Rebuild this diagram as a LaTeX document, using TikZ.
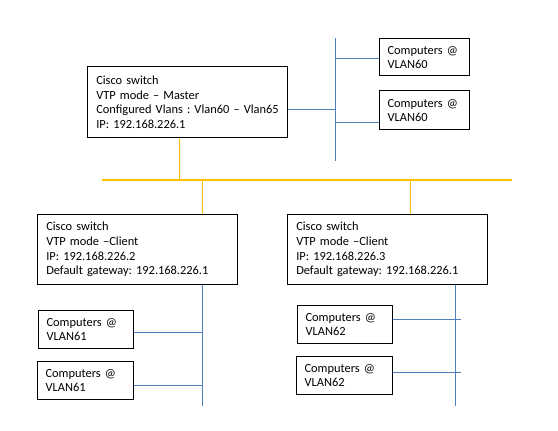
\documentclass[tikz,border=0pt]{standalone}
\usepackage{fontspec}
\setmainfont{Carlito}
\usepackage{xcolor}
\usetikzlibrary{positioning}
\frenchspacing
\definecolor{lanblue}{HTML}{4F81BD}
\definecolor{busyellow}{HTML}{FFC000}
\tikzstyle{switchbox} = [rectangle, draw, line width=0.9pt, anchor=north west,
    minimum width=150pt, text width=137pt, inner xsep=6.5pt, align=left,
    font=\fontsize{9.3}{11}\selectfont]
\tikzstyle{pcbox} = [rectangle, draw, line width=0.9pt, anchor=north west,
    minimum height=28.5pt, inner xsep=6pt, align=left,
    font=\fontsize{9.3}{10.5}\selectfont]
\tikzstyle{lan} = [draw=lanblue, line width=0.75pt]
\tikzstyle{bus} = [draw=busyellow, line width=1pt]

\begin{document}
\begin{tikzpicture}[x=0.75pt, y=-0.75pt]
        \useasboundingbox (0,0) rectangle (558,431);
        % Place switches
        \node [switchbox, minimum height=53.25pt] (master) at (87,66) {Cisco switch\\VTP mode -- Master\\\mbox{Configured Vlans : Vlan60 -- Vlan65}\\IP: 192.168.226.1};
        \node [switchbox, minimum height=52.5pt] (clientA) at (37,214) {Cisco switch\\VTP mode --Client\\IP: 192.168.226.2\\Default gateway: 192.168.226.1};
        \node [switchbox, minimum height=52.5pt] (clientB) at (287,214) {Cisco switch\\VTP mode --Client\\IP: 192.168.226.3\\Default gateway: 192.168.226.1};
        % Place computers
        \node [pcbox, minimum width=67.5pt, text width=55.5pt, minimum height=27.75pt] (pc60a) at (379,38) {Computers~@\\VLAN60};
        \node [pcbox, minimum width=67.5pt, text width=55.5pt, minimum height=29.25pt] (pc60b) at (379,90) {Computers~@\\VLAN60};
        \node [pcbox, minimum width=71.25pt, text width=59.25pt] (pc61a) at (38,310) {Computers~@\\VLAN61};
        \node [pcbox, minimum width=72pt, text width=60pt] (pc61b) at (37,361) {Computers~@\\VLAN61};
        \node [pcbox, minimum width=71.25pt, text width=59.25pt] (pc62a) at (297,305) {Computers~@\\VLAN62};
        \node [pcbox, minimum width=72pt, text width=60pt] (pc62b) at (296,356) {Computers~@\\VLAN62};
        % Line ends
        \coordinate (lan60top) at (335,38);
        \coordinate (lan60bot) at (335,161);
        \coordinate (lan61bot) at (202,406);
        \coordinate (lan62bot) at (455,406);
        \coordinate (busL) at (102,180);
        \coordinate (busR) at (512,180);
        % Draw yellow bus
        \path [bus] (busL) -- (busR);
        \path [bus] ([xshift=-6pt]master.south) -- ([xshift=-6pt]master.south |- busL);
        \path [bus] ([xshift=48.75pt]clientA.north) -- ([xshift=48.75pt]clientA.north |- busL);
        \path [bus] ([xshift=17.25pt]clientB.north) -- ([xshift=17.25pt]clientB.north |- busL);
        % Draw VLAN60
        \path [lan] (lan60top) -- (lan60bot);
        \path [lan] ([yshift=-5.6pt]master.east) -- ([yshift=-5.6pt]master.east -| lan60top);
        \path [lan] ([yshift=-1.1pt]pc60a.west) -- ([yshift=-1.1pt]pc60a.west -| lan60top);
        \path [lan] ([yshift=-9.4pt]pc60b.west) -- ([yshift=-9.4pt]pc60b.west -| lan60top);
        % Draw VLAN61
        \path [lan] (clientA.south -| lan61bot) -- (lan61bot);
        \path [lan] ([yshift=-2.25pt]pc61a.east) -- ([yshift=-2.25pt]pc61a.east -| lan61bot);
        \path [lan] ([yshift=-3.75pt]pc61b.east) -- ([yshift=-3.75pt]pc61b.east -| lan61bot);
        % Draw VLAN62
        \path [lan] (clientB.south -| lan62bot) -- (lan62bot);
        \path [lan] ([yshift=3.75pt]pc62a.east) -- ([yshift=3.75pt,xshift=4.5pt]pc62a.east -| lan62bot);
        \path [lan] ([yshift=2.25pt]pc62b.east) -- ([yshift=2.25pt,xshift=4.5pt]pc62b.east -| lan62bot);
      \end{tikzpicture}
\end{document}
